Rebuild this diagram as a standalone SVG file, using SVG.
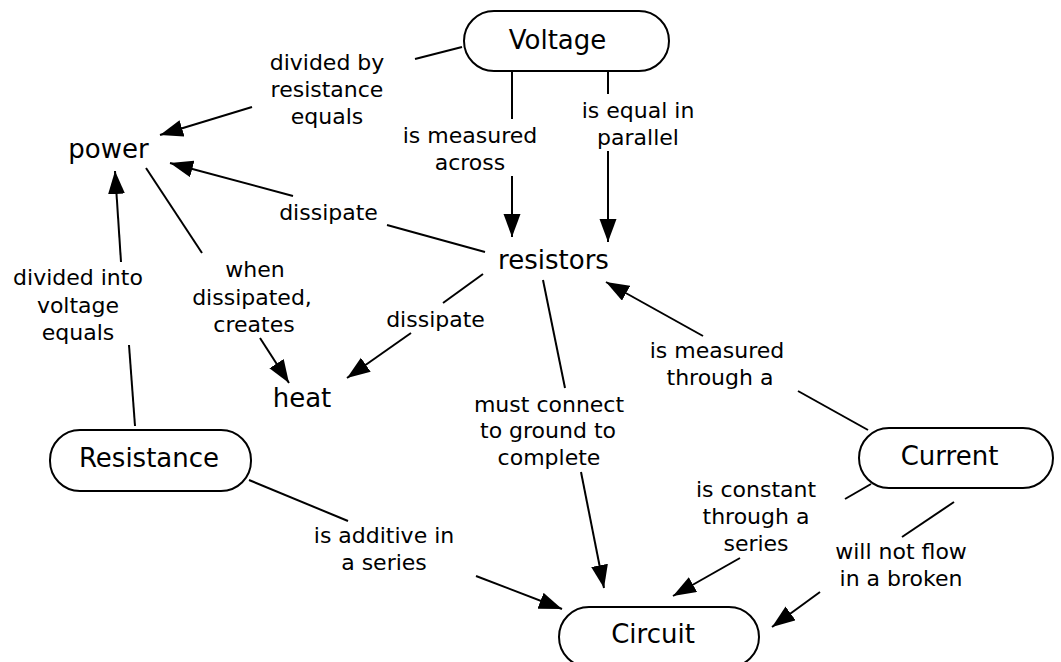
<svg xmlns="http://www.w3.org/2000/svg" width="1061" height="662" viewBox="0 0 1061 662">
<style>
.node{fill:#fff;stroke:#000;stroke-width:2}
.nt{font-family:"DejaVu Sans",Verdana,sans-serif;font-size:26px;fill:#000;text-anchor:middle}
.lt{font-family:"DejaVu Sans",Verdana,sans-serif;font-size:22px;fill:#000;text-anchor:middle}
.c{stroke:#000;stroke-width:2;fill:none}
.a{stroke:#000;stroke-width:2;fill:none;marker-end:url(#ah)}
</style>
<defs>
<marker id="ah" markerUnits="userSpaceOnUse" markerWidth="24" markerHeight="18" refX="23" refY="8.5" orient="auto">
<path d="M0,0 L23,8.5 L0,17 z" fill="#000"/>
</marker>
</defs>
<rect width="1061" height="662" fill="#fff"/>
<g id="connectors">
<line class="c" x1="462" y1="47" x2="415" y2="59"/>
<line class="a" x1="252" y1="107" x2="160" y2="135"/>
<line class="c" x1="512" y1="70" x2="512" y2="119"/>
<line class="a" x1="512" y1="176" x2="512" y2="237"/>
<line class="c" x1="608" y1="71" x2="608" y2="94"/>
<line class="a" x1="608" y1="151" x2="608" y2="242"/>
<line class="c" x1="485" y1="252" x2="387" y2="225"/>
<line class="a" x1="293" y1="196" x2="170" y2="163"/>
<line class="c" x1="146" y1="168" x2="202" y2="253"/>
<line class="a" x1="260" y1="338" x2="289" y2="383"/>
<line class="c" x1="135" y1="426" x2="129" y2="345"/>
<line class="a" x1="121" y1="262" x2="115" y2="171"/>
<line class="c" x1="483" y1="274" x2="443" y2="303"/>
<line class="a" x1="411" y1="333" x2="347" y2="378"/>
<line class="c" x1="543" y1="280" x2="565" y2="388"/>
<line class="a" x1="581" y1="472" x2="604" y2="588"/>
<line class="c" x1="868" y1="430" x2="798" y2="391"/>
<line class="a" x1="703" y1="336" x2="606" y2="282"/>
<line class="c" x1="871" y1="484" x2="845" y2="499"/>
<line class="a" x1="740" y1="558" x2="673" y2="596"/>
<line class="c" x1="954" y1="502" x2="902" y2="537"/>
<line class="a" x1="820" y1="592" x2="772" y2="627"/>
<line class="c" x1="249" y1="480" x2="348" y2="521"/>
<line class="a" x1="476" y1="576" x2="562" y2="609"/>
<text class="lt" x="327" y="70">divided by</text>
<text class="lt" x="327" y="97">resistance</text>
<text class="lt" x="327" y="124">equals</text>
<text class="lt" x="470" y="143">is measured</text>
<text class="lt" x="470" y="170">across</text>
<text class="lt" x="638" y="118">is equal in</text>
<text class="lt" x="638" y="145">parallel</text>
<text class="lt" x="328.5" y="220">dissipate</text>
<text class="lt" x="78" y="285">divided into</text>
<text class="lt" x="78" y="313">voltage</text>
<text class="lt" x="78" y="340">equals</text>
<text class="lt" x="255" y="277">when</text>
<text class="lt" x="252" y="305">dissipated,</text>
<text class="lt" x="254" y="332">creates</text>
<text class="lt" x="435.5" y="327">dissipate</text>
<text class="lt" x="549" y="412">must connect</text>
<text class="lt" x="548" y="438">to ground to</text>
<text class="lt" x="549" y="465">complete</text>
<text class="lt" x="384" y="543">is additive in</text>
<text class="lt" x="384" y="570">a series</text>
<text class="lt" x="717" y="358">is measured</text>
<text class="lt" x="720" y="385">through a</text>
<text class="lt" x="756" y="497">is constant</text>
<text class="lt" x="756" y="524">through a</text>
<text class="lt" x="756" y="551">series</text>
<text class="lt" x="901" y="559">will not flow</text>
<text class="lt" x="901" y="586">in a broken</text>
</g>
<g id="voltage">
<rect class="node" x="464" y="11" width="205" height="60" rx="30" ry="30"/>
<text class="nt" x="557.5" y="49">Voltage</text>
</g>
<g id="power">
<text class="nt" x="108.5" y="158">power</text>
</g>
<g id="resistors">
<text class="nt" x="553.5" y="269">resistors</text>
</g>
<g id="heat">
<text class="nt" x="302" y="407">heat</text>
</g>
<g id="resistance">
<rect class="node" x="50" y="430" width="201" height="61" rx="30" ry="30"/>
<text class="nt" x="149" y="467">Resistance</text>
</g>
<g id="current">
<rect class="node" x="859" y="428" width="194" height="60" rx="30" ry="30"/>
<text class="nt" x="949.5" y="465">Current</text>
</g>
<g id="circuit">
<rect class="node" x="559" y="607" width="200" height="60" rx="30" ry="30"/>
<text class="nt" x="653" y="643">Circuit</text>
</g>
</svg>
